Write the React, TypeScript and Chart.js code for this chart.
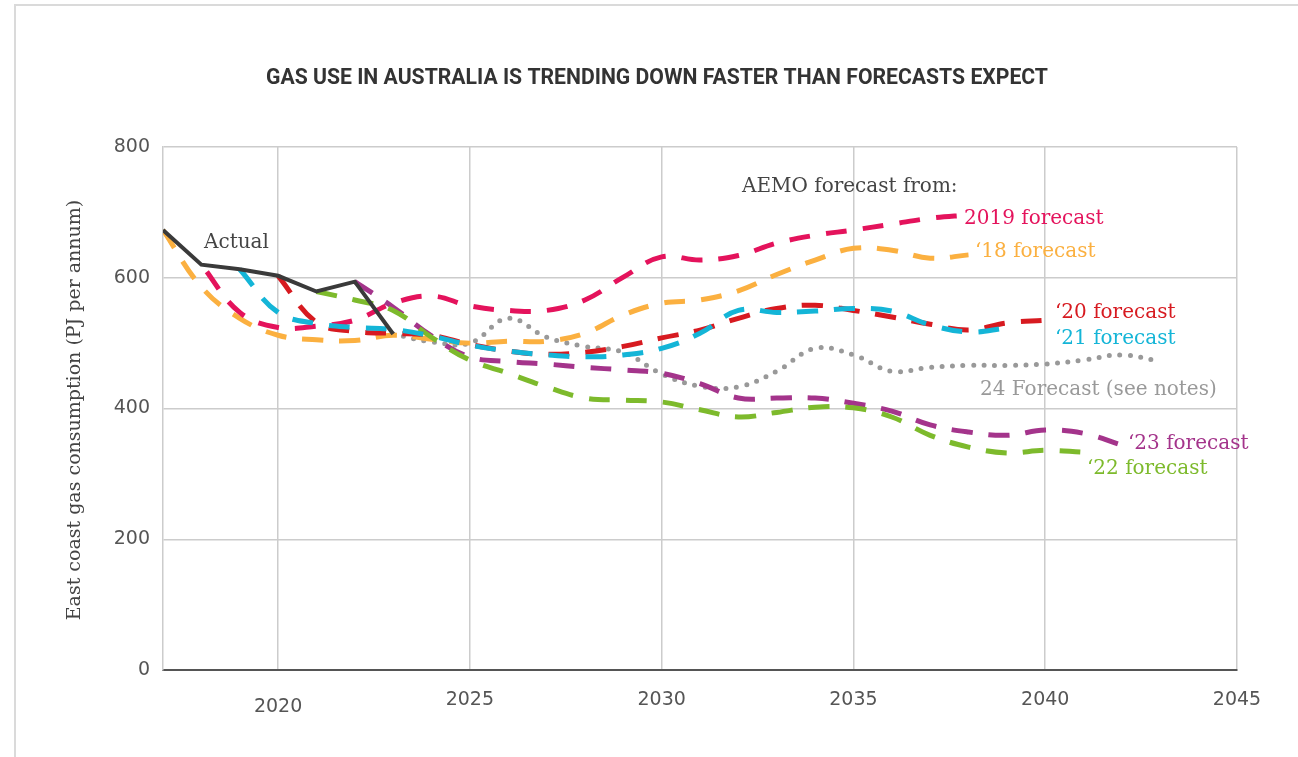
import React, { useEffect, useRef } from "react";
import { Chart, registerables } from "chart.js";

Chart.register(...registerables);

// ---- data ----
const actualStart = 2017;
const actualValues = [673, 620, 613, 603, 579, 594, 514];

const f18Start = 2017;
const f18Values = [673, 586, 538, 512, 505, 504, 512, 506, 500, 503, 503, 515, 543, 561, 566, 580, 605, 627, 645, 642, 630, 635];

const f19Start = 2018;
const f19Values = [620, 547, 524, 526, 535, 561, 572, 557, 550, 550, 566, 601, 632, 627, 634, 653, 665, 673, 682, 691, 696];

const f20Start = 2020;
const f20Values = [603, 532, 518, 515, 512, 498, 488, 483, 486, 495, 508, 520, 538, 553, 558, 550, 540, 529, 520, 531, 535];

const f21Start = 2019;
const f21Values = [613, 547, 530, 524, 521, 511, 497, 488, 482, 479, 482, 492, 515, 550, 547, 549, 553, 549, 528, 517, 523];

const f22Start = 2021;
const f22Values = [579, 566, 550, 509, 474, 454, 433, 416, 413, 410, 398, 387, 394, 402, 401, 387, 359, 341, 332, 336, 333];

const f23Start = 2022;
const f23Values = [594, 555, 511, 479, 472, 468, 463, 459, 454, 438, 416, 416, 416, 408, 396, 375, 364, 359, 367, 362, 344];

const f24Start = 2023;
const f24Values = [514, 502, 500, 538, 509, 495, 486, 453, 434, 433, 457, 492, 482, 457, 463, 466, 466, 468, 474, 482, 472];

const xMin = 2017;
const xMax = 2045;
const xStep = 5;
const yMin = 0;
const yMax = 800;
const yStep = 200;

const titleText = "GAS USE IN AUSTRALIA IS TRENDING DOWN FASTER THAN FORECASTS EXPECT";
const yAxisTitle = "East coast gas consumption (PJ per annum)";

// ---- styles / layout ----
const COLORS = {
  actual: "#3a3a3a",
  f18: "#fbb040",
  f19: "#e4135c",
  f20: "#d71a20",
  f21: "#14b5d7",
  f22: "#7dba2c",
  f23: "#a4348b",
  f24: "#999999",
  text: "#444444",
  title: "#333333",
  grid: "#cccccc",
  tick: "#555555",
};

const annotations = [
  { text: "Actual", color: COLORS.text, x: 204, y: 243 },
  { text: "AEMO forecast from:", color: COLORS.text, x: 742, y: 187 },
  { text: "2019 forecast", color: COLORS.f19, x: 964, y: 219 },
  { text: "\u201818 forecast", color: COLORS.f18, x: 975, y: 252 },
  { text: "\u201820 forecast", color: COLORS.f20, x: 1055, y: 313 },
  { text: "\u201821 forecast", color: COLORS.f21, x: 1055, y: 339 },
  { text: "24 Forecast (see notes)", color: COLORS.f24, x: 980, y: 390 },
  { text: "\u201823 forecast", color: COLORS.f23, x: 1128, y: 444 },
  { text: "\u201822 forecast", color: COLORS.f22, x: 1087, y: 469 },
];

const toPoints = (start: number, vals: number[]) => vals.map((v, i) => ({ x: start + i, y: v }));

const DASH = [21, 16];

const textPlugin = {
  id: "customText",
  beforeDraw(chart: any) {
    const ctx = chart.ctx;
    ctx.save();
    ctx.strokeStyle = "#dadada";
    ctx.lineWidth = 2;
    ctx.beginPath();
    ctx.moveTo(15, 757);
    ctx.lineTo(15, 5);
    ctx.lineTo(1298, 5);
    ctx.stroke();
    ctx.restore();
  },
  afterDraw(chart: any) {
    const ctx = chart.ctx;
    ctx.save();
    ctx.font = "bold 22px Roboto";
    ctx.fillStyle = COLORS.title;
    ctx.textBaseline = "middle";
    ctx.textAlign = "center";
    const w = ctx.measureText(titleText).width;
    const sx = 782 / w;
    ctx.translate(657, 78);
    ctx.scale(sx, 1);
    ctx.fillText(titleText, 0, 0);
    ctx.restore();

    ctx.save();
    ctx.font = '19px "DejaVu Serif"';
    ctx.fillStyle = COLORS.text;
    ctx.textAlign = "center";
    ctx.textBaseline = "middle";
    ctx.translate(75, 410);
    ctx.rotate(-Math.PI / 2);
    ctx.fillText(yAxisTitle, 0, 0);
    ctx.restore();

    ctx.save();
    ctx.font = '20px "DejaVu Serif"';
    ctx.textAlign = "left";
    ctx.textBaseline = "middle";
    for (const a of annotations) {
      ctx.fillStyle = a.color;
      ctx.fillText(a.text, a.x, a.y);
    }
    ctx.restore();
  },
};

export default function App() {
  const ref = useRef<HTMLCanvasElement | null>(null);

  useEffect(() => {
    document.body.style.margin = "0";
    const canvas = ref.current;
    if (!canvas) return;

    const dashed = (label: string, color: string, data: any[], offset = 0) => ({
      label,
      data,
      borderColor: color,
      backgroundColor: color,
      borderWidth: 5,
      borderDash: DASH,
      borderDashOffset: offset,
      borderCapStyle: "butt",
      pointRadius: 0,
      tension: 0.4,
      fill: false,
    });

    const tickFont = (lh: number) => ({ family: '"DejaVu Sans"', size: 19, weight: "normal", lineHeight: lh });

    const chart = new Chart(canvas, {
      type: "line",
      data: {
        datasets: [
          {
            label: "Actual",
            data: toPoints(actualStart, actualValues),
            borderColor: COLORS.actual,
            backgroundColor: COLORS.actual,
            borderWidth: 4,
            pointRadius: 0,
            tension: 0,
            fill: false,
          },
          dashed("'21 forecast", COLORS.f21, toPoints(f21Start, f21Values)),
          dashed("'20 forecast", COLORS.f20, toPoints(f20Start, f20Values)),
          dashed("'22 forecast", COLORS.f22, toPoints(f22Start, f22Values)),
          dashed("'23 forecast", COLORS.f23, toPoints(f23Start, f23Values)),
          dashed("2019 forecast", COLORS.f19, toPoints(f19Start, f19Values), 28),
          dashed("'18 forecast", COLORS.f18, toPoints(f18Start, f18Values)),
          {
            label: "24 Forecast",
            data: toPoints(f24Start, f24Values),
            borderColor: COLORS.f24,
            backgroundColor: COLORS.f24,
            borderWidth: 5,
            borderDash: [0, 10.5],
            borderCapStyle: "round",
            pointRadius: 0,
            tension: 0.4,
            fill: false,
          },
        ] as any,
      },
      options: {
        animation: false,
        responsive: true,
        maintainAspectRatio: false,
        layout: { padding: { top: 147, right: 61, bottom: 0, left: 0 } },
        plugins: {
          legend: { display: false },
          tooltip: { enabled: false },
          title: { display: false },
        },
        scales: {
          x: {
            type: "linear",
            min: xMin,
            max: xMax,
            afterFit: (s: any) => {
              s.height = 87;
            },
            ticks: {
              stepSize: xStep,
              includeBounds: false,
              padding: 19,
              color: COLORS.tick,
              font: (c: any) => (c.tick && c.tick.value === 2020 ? tickFont(1.95) : tickFont(1.2)),
              callback: (v: any) => String(v),
            },
            grid: { color: COLORS.grid, lineWidth: 1.5, drawTicks: false },
            border: { color: "#555555", width: 2 },
          },
          y: {
            min: yMin,
            max: yMax,
            afterFit: (s: any) => {
              s.width = 163;
            },
            ticks: {
              stepSize: yStep,
              padding: 13,
              color: COLORS.tick,
              font: tickFont(1.2),
            },
            grid: { color: COLORS.grid, lineWidth: 1.5, drawTicks: false },
            border: { color: COLORS.grid, width: 1.5 },
          },
        },
      } as any,
      plugins: [textPlugin],
    });

    return () => chart.destroy();
  }, []);

  return (
    <div style={{ position: "relative", width: 1298, height: 757 }}>
      <canvas ref={ref} />
    </div>
  );
}
